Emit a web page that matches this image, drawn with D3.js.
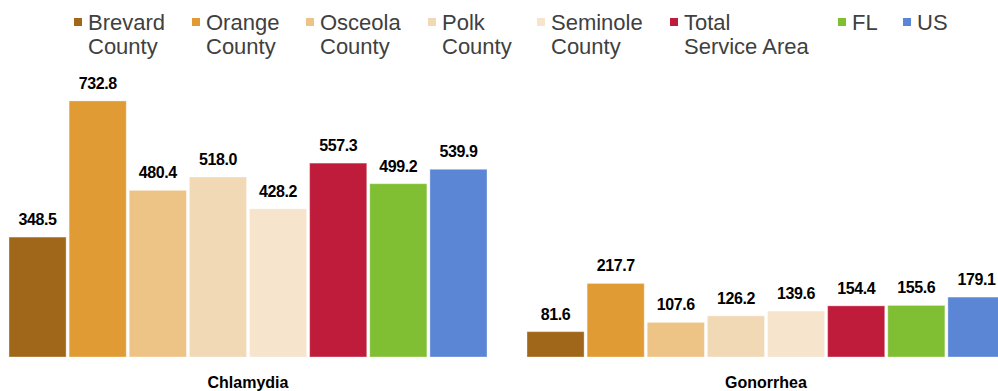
<!DOCTYPE html>
<html>
<head>
<meta charset="utf-8">
<script src="https://cdn.jsdelivr.net/npm/d3@7"></script>
<style>
  body { margin: 0; background: #fff; }
  svg { display: block; }
</style>
</head>
<body>
<div id="chart"></div>
<script>
// Chart data
const groups = ["Chlamydia", "Gonorrhea"];
const series = ["Brevard County", "Orange County", "Osceola County", "Polk County",
                "Seminole County", "Total Service Area", "FL", "US"];
const chlamydia = [348.5, 732.8, 480.4, 518.0, 428.2, 557.3, 499.2, 539.9];
const gonorrhea = [81.6, 217.7, 107.6, 126.2, 139.6, 154.4, 155.6, 179.1];
const colors = ["#A0671A", "#E09B35", "#EDC386", "#F2D9B6", "#F6E4CD", "#BE1C3A", "#80BF33", "#5B86D6"];
// legend lines as shown (wrapped)
const legendLines = [["Brevard", "County"], ["Orange", "County"], ["Osceola", "County"], ["Polk", "County"],
                     ["Seminole", "County"], ["Total", "Service Area"], ["FL"], ["US"]];

const width = 998, height = 391;
const rows = groups.map((g, i) => ({
    group: g,
    values: series.map((s, j) => ({ series: s, value: (i === 0 ? chlamydia : gonorrhea)[j] }))
}));

const svg = d3.select("#chart")
    .append("svg")
    .attr("width", width)
    .attr("height", height);

// Scales
const x0 = d3.scaleBand()
    .domain(groups)
    .range([9, 1005])
    .paddingInner(0.0772)
    .paddingOuter(0);

const x1 = d3.scaleBand()
    .domain(series)
    .range([0, x0.bandwidth()])
    .paddingInner(0.05)
    .paddingOuter(0);

const y = d3.scaleLinear()
    .domain([10, 760])
    .range([357, 91.3]);

const color = d3.scaleOrdinal().domain(series).range(colors);

const font = "'Liberation Sans', Arial, sans-serif";

// Bars
const grp = svg.selectAll("g.group")
    .data(rows)
    .join("g")
    .attr("class", "group")
    .attr("transform", d => `translate(${x0(d.group)},0)`);

grp.selectAll("rect")
    .data(d => d.values)
    .join("rect")
    .attr("x", d => x1(d.series))
    .attr("y", d => y(d.value))
    .attr("width", x1.bandwidth())
    .attr("height", d => y(y.domain()[0]) - y(d.value))
    .attr("fill", d => color(d.series))
    .attr("stroke", "#ffffff")
    .attr("stroke-opacity", 0.35)
    .attr("stroke-width", 1);

// Value labels
grp.selectAll("text.value")
    .data(d => d.values)
    .join("text")
    .attr("class", "value")
    .attr("x", d => x1(d.series) + x1.bandwidth() / 2)
    .attr("y", d => y(d.value) - 12)
    .attr("text-anchor", "middle")
    .style("font-family", font)
    .style("font-weight", "bold")
    .style("font-size", "16px")
    .style("letter-spacing", "-0.4px")
    .attr("fill", "#000")
    .text(d => d.value.toFixed(1));

// Category labels
svg.selectAll("text.cat")
    .data(groups)
    .join("text")
    .attr("class", "cat")
    .attr("x", d => x0(d) + x0.bandwidth() / 2)
    .attr("y", 388)
    .attr("text-anchor", "middle")
    .style("font-family", font)
    .style("font-weight", "bold")
    .style("font-size", "16px")
    .attr("fill", "#000")
    .text(d => d);

// Legend
const legendX = [74, 192, 306, 428, 537, 670, 838, 903];
const legend = svg.append("g").attr("class", "legend");

series.forEach((s, i) => {
    const row = legend.append("g")
        .attr("transform", `translate(${legendX[i]}, 0)`);

    row.append("rect")
        .attr("x", 0)
        .attr("y", 18)
        .attr("width", 8)
        .attr("height", 8)
        .attr("fill", color(s));

    const t = row.append("text")
        .attr("x", 14)
        .attr("y", 30)
        .style("font-family", font)
        .style("font-size", "22px")
        .attr("fill", "#404040");

    legendLines[i].forEach((line, k) => {
        t.append("tspan")
            .attr("x", 14)
            .attr("dy", k === 0 ? 0 : 24)
            .text(line);
    });
});
</script>
</body>
</html>
